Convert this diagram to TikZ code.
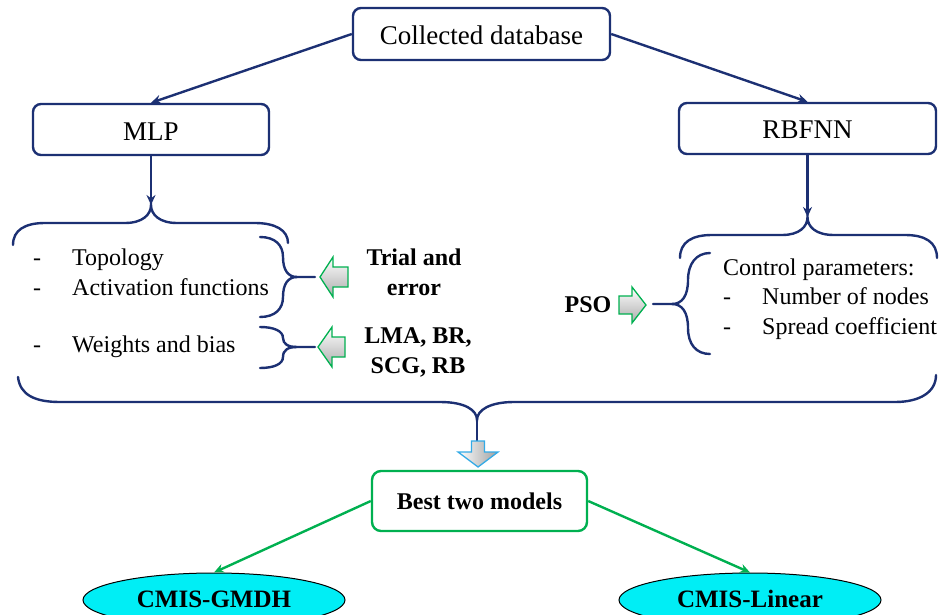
\documentclass[tikz,border=0pt]{standalone}
\usepackage{fontspec}
\setmainfont{Liberation Serif}
\usetikzlibrary{shapes.geometric,arrows.meta}
\definecolor{navy}{RGB}{28,48,115}
\definecolor{grn}{RGB}{0,176,80}
\definecolor{cyanfill}{RGB}{0,238,245}
\definecolor{lblue}{RGB}{51,170,230}
\begin{document}
\begin{tikzpicture}[x=1pt,y=-1pt,
  navybox/.style={draw=navy, line width=2.4pt, rounded corners=8pt, fill=white, inner sep=0pt,
    font=\fontsize{27}{32}\selectfont, text height=21pt, text depth=0pt},
  greenbox/.style={draw=grn, line width=2.4pt, rounded corners=9pt, fill=white, inner sep=0pt,
    font=\bfseries\fontsize{24}{30}\selectfont, text height=16pt, text depth=0pt},
  oval/.style={ellipse, draw=black, line width=1pt, fill=cyanfill, inner sep=0pt,
    font=\bfseries\fontsize{25}{30}\selectfont, text height=14pt, text depth=0pt},
  navyarrow/.style={draw=navy, line width=2.4pt, -{Stealth[length=10pt,width=9pt]}},
  greenarrow/.style={draw=grn, line width=2.4pt, -{Stealth[length=10pt,width=9pt]}},
  brace/.style={draw=navy, line width=2.4pt, line cap=round},
  txt/.style={inner sep=0pt, anchor=base west, font=\fontsize{24}{30}\selectfont},
  btxt/.style={inner sep=0pt, anchor=base, align=center, font=\bfseries\fontsize{24}{30}\selectfont},
  hollowgreen/.style={draw=grn, line width=1.3pt, top color=white, bottom color=gray!65},
  hollowblue/.style={draw=lblue, line width=1.3pt, left color=white, right color=gray!75}
]
\useasboundingbox (0,0) rectangle (944,615);
\clip (0,0) rectangle (944,615);

% boxes
\node[navybox, minimum width=257pt, minimum height=52pt] (cd) at (481.5,34) {Collected database};
\node[navybox, minimum width=236pt, minimum height=51pt] (mlp) at (151,129.5) {MLP};
\node[navybox, minimum width=257pt, minimum height=51pt] (rbf) at (807.5,128.5) {RBFNN};
\node[greenbox, minimum width=215pt, minimum height=60pt] (best) at (479.5,501) {Best two models};
\node[oval, minimum width=262pt, minimum height=54pt] (gmdh) at (214,600) {CMIS-GMDH};
\node[oval, minimum width=262pt, minimum height=54pt] (lin) at (750,600) {CMIS-Linear};

% connectors from top
\draw[navyarrow] (cd.west) -- (mlp.north);
\draw[navyarrow] (cd.east) -- (rbf.north);

% brace tips
\coordinate (tipL) at (151,205);
\coordinate (tipR) at (807.5,217);
\coordinate (tipB) at (477,420);
\coordinate (arrTop) at (477,441);

\draw[navyarrow] (mlp.south) -- (tipL);
\draw[navyarrow] (rbf.south) -- (tipR);

% top-left brace
\draw[brace] (13,245) .. controls (13,230) and (25,223) .. (45,223) -- (125,223)
  .. controls (142,223) and (151,215) .. (tipL)
  .. controls (151,215) and (160,223) .. (177,223) -- (255,223)
  .. controls (275,223) and (288,230) .. (288,243);

% top-right brace
\draw[brace] (680,258) .. controls (680,242) and (692,235) .. (712,235) -- (782,235)
  .. controls (799,235) and (807.5,227) .. (tipR)
  .. controls (807.5,227) and (816,235) .. (834,235) -- (905,235)
  .. controls (925,235) and (937,242) .. (937,258);

% bottom brace
\draw[brace] (18,377) .. controls (20,395) and (35,402) .. (60,402) -- (440,402)
  .. controls (465,402) and (477,410) .. (tipB)
  .. controls (477,410) and (490,402) .. (514,402) -- (895,402)
  .. controls (920,402) and (936,392) .. (936,375);
\draw[draw=navy, line width=2.4pt] (tipB) -- (arrTop);

% small braces left
\draw[brace] (260,237) .. controls (275,237) and (283,245) .. (283,257)
  .. controls (283,270) and (288,277) .. (297,277) -- (315,277);
\draw[brace] (297,277) .. controls (288,277) and (283,284) .. (283,297)
  .. controls (283,309) and (275,317) .. (260,317);
\draw[brace] (260,327) .. controls (274,327) and (283,331) .. (283,338)
  .. controls (283,344) and (288,347) .. (297,347) -- (315,347);
\draw[brace] (297,347) .. controls (288,347) and (283,350) .. (283,357)
  .. controls (283,364) and (274,368) .. (260,368);

% small brace right
\draw[brace] (710,253) .. controls (696,253) and (688,264) .. (688,280)
  .. controls (688,296) and (682,304) .. (672,304) -- (653,304);
\draw[brace] (672,304) .. controls (682,304) and (688,312) .. (688,328)
  .. controls (688,344) and (696,354) .. (710,354);

% hollow arrows
\path[hollowgreen] (320,277) -- (333,257) -- (333,267) -- (348,267) -- (348,287) -- (333,287) -- (333,297) -- cycle;
\path[hollowgreen] (318,347) -- (332,327) -- (332,337) -- (345,337) -- (345,357) -- (332,357) -- (332,367) -- cycle;
\path[hollowgreen] (646,305) -- (632,287) -- (632,296) -- (619,296) -- (619,314) -- (632,314) -- (632,323) -- cycle;
\path[hollowblue] (478,467) -- (458,452) -- (471.5,452) -- (471.5,441) -- (484.5,441) -- (484.5,452) -- (498,452) -- cycle;

% green connectors
\draw[greenarrow] (best.west) -- (gmdh.north);
\draw[greenarrow] (best.east) -- (lin.north);

% left list
\node[txt] (d1) at (33,265) {-};
\node[txt] (t1) at (72,265) {Topology};
\node[txt] (d2) at (33,295) {-};
\node[txt] (t2) at (72,295) {Activation functions};
\node[txt] (d3) at (33,352) {-};
\node[txt] (t3) at (72,352) {Weights and bias};

\node[btxt] (trial) at (414,295) {Trial and\\error};
\node[btxt] (lma) at (418,373) {LMA, BR,\\SCG, RB};
\node[btxt] (pso) at (588,312) {PSO};

% right list
\node[txt] (cp) at (723,275) {Control parameters:};
\node[txt] (d4) at (723,304) {-};
\node[txt] (t4) at (762,304) {Number of nodes};
\node[txt] (d5) at (723,334) {-};
\node[txt] (t5) at (762,334) {Spread coefficient};
\end{tikzpicture}
\end{document}
